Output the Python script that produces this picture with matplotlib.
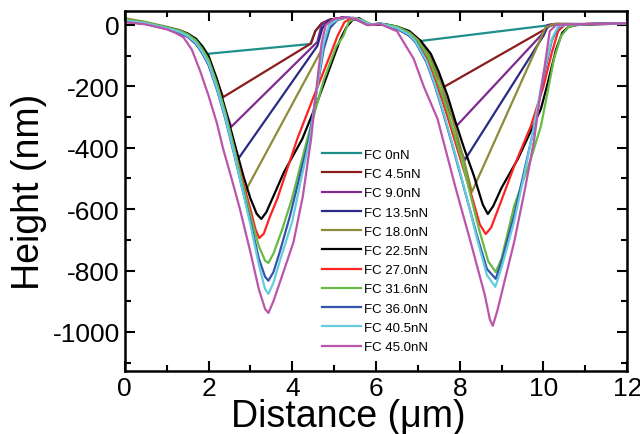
import matplotlib.pyplot as plt
from matplotlib.ticker import MultipleLocator

plt.rcParams['font.family'] = ['Liberation Sans', 'DejaVu Sans']
plt.rcParams['axes.unicode_minus'] = False

# profiles: distance (um) and height (nm)
x_fc0 = [0, 0.5, 1.0, 1.3, 1.5, 1.7, 1.85, 1.97, 4.43, 4.55, 4.7, 4.9, 5.3, 5.6, 5.85, 6.1, 6.5, 6.8, 7.07, 10.0, 10.3, 11, 12]
y_fc0 = [15, 6, -8, -18, -28, -45, -68, -94, -62, -20, 5, 18, 25, 15, 0, 5, -8, -25, -52, -3, 3, 3, 6]

x_fc45a = [0, 0.5, 1.0, 1.3, 1.5, 1.7, 1.85, 2.0, 2.2, 2.35, 4.45, 4.55, 4.7, 4.9, 5.3, 5.6, 5.85, 6.1, 6.5, 6.8, 7.0, 7.2, 7.4, 7.62, 10.05, 10.2, 11, 12]
y_fc45a = [14, 5, -10, -20, -32, -50, -75, -110, -180, -235, -60, -20, 5, 18, 25, 15, 0, 4, -8, -28, -50, -95, -150, -202, -13, 2, 3, 5]

x_fc9 = [0, 0.5, 1.0, 1.3, 1.5, 1.7, 1.85, 2.0, 2.2, 2.4, 2.54, 4.6, 4.7, 4.85, 5.2, 5.5, 5.8, 6.1, 6.5, 6.8, 7.0, 7.2, 7.4, 7.6, 7.78, 7.93, 10.0, 10.1, 10.3, 11, 12]
y_fc9 = [10, 3, -12, -25, -38, -60, -88, -125, -200, -275, -332, -55, 0, 15, 25, 20, 0, 3, -12, -35, -60, -110, -170, -230, -290, -328, -25, 0, 4, 3, 5]

x_fc13 = [0, 0.5, 1.0, 1.3, 1.5, 1.7, 1.85, 2.0, 2.2, 2.4, 2.55, 2.71, 4.6, 4.72, 4.85, 5.2, 5.5, 5.8, 6.1, 6.5, 6.8, 7.0, 7.2, 7.4, 7.6, 7.8, 7.95, 8.12, 10.0, 10.1, 10.3, 11, 12]
y_fc13 = [12, 4, -12, -24, -38, -60, -90, -128, -205, -295, -365, -436, -68, -10, 12, 25, 20, 0, 4, -10, -32, -58, -105, -170, -250, -330, -385, -440, -35, -5, 3, 3, 5]

x_fc18 = [0, 0.5, 1.0, 1.3, 1.5, 1.7, 1.85, 2.0, 2.2, 2.4, 2.6, 2.75, 2.87, 4.75, 4.85, 4.95, 5.3, 5.55, 5.8, 6.1, 6.5, 6.8, 7.05, 7.3, 7.5, 7.7, 7.9, 8.1, 8.29, 9.9, 10.05, 10.25, 11, 12]
y_fc18 = [22, 10, -6, -16, -28, -48, -75, -110, -190, -285, -390, -470, -544, -68, -15, 10, 25, 18, 0, 5, -6, -25, -55, -105, -170, -250, -340, -440, -544, -55, -8, 3, 3, 6]

x_fc22 = [0, 0.5, 1.0, 1.3, 1.5, 1.7, 1.85, 2.0, 2.2, 2.4, 2.6, 2.83, 3.0, 3.15, 3.26, 3.38, 3.52, 3.8, 4.24, 4.6, 4.95, 5.15, 5.3, 5.45, 5.6, 5.8, 6.0, 6.2, 6.5, 6.8, 7.07, 7.31, 7.5, 7.71, 7.9, 8.1, 8.34, 8.55, 8.67, 8.8, 9.0, 9.39, 9.7, 9.94, 10.1, 10.3, 10.45, 10.6, 10.8, 11.2, 12]
y_fc22 = [12, 5, -8, -18, -28, -45, -70, -100, -176, -273, -375, -491, -565, -615, -632, -610, -567, -480, -371, -250, -120, -46, -6, 18, 22, 5, 0, 3, -5, -20, -52, -94, -153, -231, -316, -400, -492, -585, -616, -590, -530, -436, -345, -273, -190, -80, -25, -6, 0, 2, 5]

x_fc27 = [0, 0.5, 1.0, 1.3, 1.5, 1.7, 1.85, 2.0, 2.2, 2.4, 2.6, 2.8, 3.0, 3.12, 3.21, 3.32, 3.45, 3.64, 4.12, 4.55, 4.9, 5.08, 5.25, 5.45, 5.65, 5.85, 6.1, 6.5, 6.8, 7.0, 7.2, 7.4, 7.6, 7.8, 8.0, 8.25, 8.48, 8.62, 8.75, 9.0, 9.3, 9.7, 10.0, 10.2, 10.35, 10.5, 11, 12]
y_fc27 = [15, 6, -10, -20, -32, -52, -80, -115, -195, -290, -395, -500, -600, -665, -694, -680, -630, -567, -371, -220, -100, -36, 10, 24, 15, 0, 3, -8, -25, -48, -100, -170, -250, -340, -430, -540, -650, -681, -660, -570, -460, -329, -200, -90, -20, 0, 3, 5]

x_fc31 = [0, 0.5, 1.0, 1.3, 1.5, 1.7, 1.85, 2.0, 2.2, 2.4, 2.6, 2.8, 3.0, 3.2, 3.35, 3.43, 3.55, 3.75, 3.99, 4.36, 4.75, 5.05, 5.22, 5.35, 5.5, 5.7, 5.9, 6.1, 6.5, 6.8, 7.0, 7.25, 7.45, 7.65, 7.85, 8.05, 8.25, 8.45, 8.68, 8.86, 9.0, 9.3, 9.7, 9.94, 10.1, 10.25, 10.42, 10.6, 10.8, 11.2, 12]
y_fc31 = [18, 8, -8, -18, -30, -50, -78, -112, -190, -285, -395, -510, -620, -720, -768, -775, -745, -670, -567, -371, -180, -70, -36, 10, 22, 15, 0, 5, -5, -25, -50, -105, -175, -255, -345, -440, -550, -660, -770, -805, -760, -590, -436, -329, -218, -111, -36, -6, 0, 3, 5]

x_fc36 = [0, 0.5, 1.0, 1.3, 1.5, 1.7, 1.85, 2.0, 2.2, 2.4, 2.6, 2.8, 3.0, 3.2, 3.35, 3.43, 3.55, 3.7, 3.95, 4.2, 4.4, 4.6, 4.75, 4.9, 5.1, 5.35, 5.6, 5.85, 6.1, 6.5, 6.8, 6.95, 7.2, 7.4, 7.6, 7.8, 8.0, 8.2, 8.42, 8.65, 8.86, 9.0, 9.3, 9.6, 9.8, 10.0, 10.2, 10.35, 10.5, 11, 12]
y_fc36 = [12, 4, -12, -25, -38, -62, -92, -130, -210, -305, -415, -530, -640, -760, -820, -833, -805, -740, -620, -480, -371, -200, -80, -10, 20, 25, 15, 0, 5, -12, -35, -58, -120, -195, -285, -380, -480, -580, -690, -795, -827, -770, -620, -440, -320, -170, -50, -8, 0, 3, 6]

x_fc40 = [0, 0.5, 1.0, 1.3, 1.5, 1.7, 1.85, 2.0, 2.2, 2.4, 2.6, 2.8, 3.0, 3.2, 3.35, 3.43, 3.55, 3.7, 4.0, 4.2, 4.42, 4.62, 4.75, 4.88, 5.1, 5.35, 5.6, 5.85, 6.1, 6.5, 6.8, 6.95, 7.2, 7.4, 7.6, 7.8, 8.0, 8.2, 8.42, 8.65, 8.85, 9.0, 9.3, 9.6, 9.8, 10.0, 10.2, 10.35, 10.5, 11, 12]
y_fc40 = [15, 6, -10, -22, -36, -58, -88, -125, -205, -300, -410, -530, -650, -780, -860, -876, -840, -770, -640, -510, -371, -180, -60, 0, 20, 25, 18, 2, 5, -10, -32, -55, -115, -190, -280, -375, -475, -580, -700, -815, -853, -790, -640, -450, -310, -160, -45, -5, 0, 3, 5]

x_fc45 = [0, 0.5, 1.0, 1.2, 1.4, 1.6, 1.8, 2.0, 2.2, 2.35, 2.55, 2.75, 3.0, 3.2, 3.35, 3.43, 3.55, 3.8, 4.03, 4.25, 4.45, 4.6, 4.7, 4.8, 5.0, 5.3, 5.55, 5.8, 6.1, 6.5, 6.9, 7.14, 7.47, 7.9, 8.26, 8.6, 8.72, 8.79, 8.9, 9.3, 9.55, 9.77, 9.9, 10.03, 10.15, 10.3, 11, 12]
y_fc45 = [10, 2, -14, -25, -40, -80, -150, -230, -320, -404, -500, -600, -740, -860, -925, -938, -900, -800, -707, -560, -371, -180, -60, 0, 20, 25, 18, 0, 3, -20, -110, -200, -306, -530, -707, -880, -960, -980, -930, -707, -540, -381, -250, -133, -20, 0, 3, 5]

labels = ['FC 0nN', 'FC 4.5nN', 'FC 9.0nN', 'FC 13.5nN', 'FC 18.0nN', 'FC 22.5nN',
          'FC 27.0nN', 'FC 31.6nN', 'FC 36.0nN', 'FC 40.5nN', 'FC 45.0nN']

curves = [(x_fc0, y_fc0), (x_fc45a, y_fc45a), (x_fc9, y_fc9), (x_fc13, y_fc13),
          (x_fc18, y_fc18), (x_fc22, y_fc22), (x_fc27, y_fc27), (x_fc31, y_fc31),
          (x_fc36, y_fc36), (x_fc40, y_fc40), (x_fc45, y_fc45)]

colors = ['#1f8f8a', '#8b1c1c', '#7f2a8f', '#2b2b86', '#8c8c3c', '#000000',
          '#ff2222', '#66bb44', '#3355aa', '#66ccdd', '#bb55aa']

fig = plt.figure(figsize=(6.4, 4.35), dpi=100)
ax = fig.add_axes([0.195, 0.145, 0.785, 0.827])

for (xs, ys), lab, c in zip(curves, labels, colors):
    ax.plot(xs, ys, color=c, lw=1.6, label=lab)

ax.set_xlim(0, 12)
ax.set_ylim(-1127, 45)
ax.xaxis.set_major_locator(MultipleLocator(2))
ax.xaxis.set_minor_locator(MultipleLocator(1))
ax.yaxis.set_major_locator(MultipleLocator(200))
ax.yaxis.set_minor_locator(MultipleLocator(100))
ax.tick_params(which='both', direction='in', top=True, right=True, width=1.5, labelsize=19)
ax.tick_params(which='major', length=7)
ax.tick_params(which='minor', length=4)
for s in ax.spines.values():
    s.set_linewidth(1.8)

ax.set_xlabel('Distance (μm)', fontsize=27)
ax.xaxis.set_label_coords(0.445, -0.075, transform=ax.transAxes)
ax.xaxis.label.set_va('top')
ax.set_ylabel('Height (nm)', fontsize=27, labelpad=4)

ax.legend(loc='upper left', bbox_to_anchor=(0.392, 0.618), frameon=False,
          fontsize=9.5, handlelength=3.0, handletextpad=0.2, labelspacing=0.53,
          borderpad=0, borderaxespad=0)

fig.savefig('out.png', dpi=100)
